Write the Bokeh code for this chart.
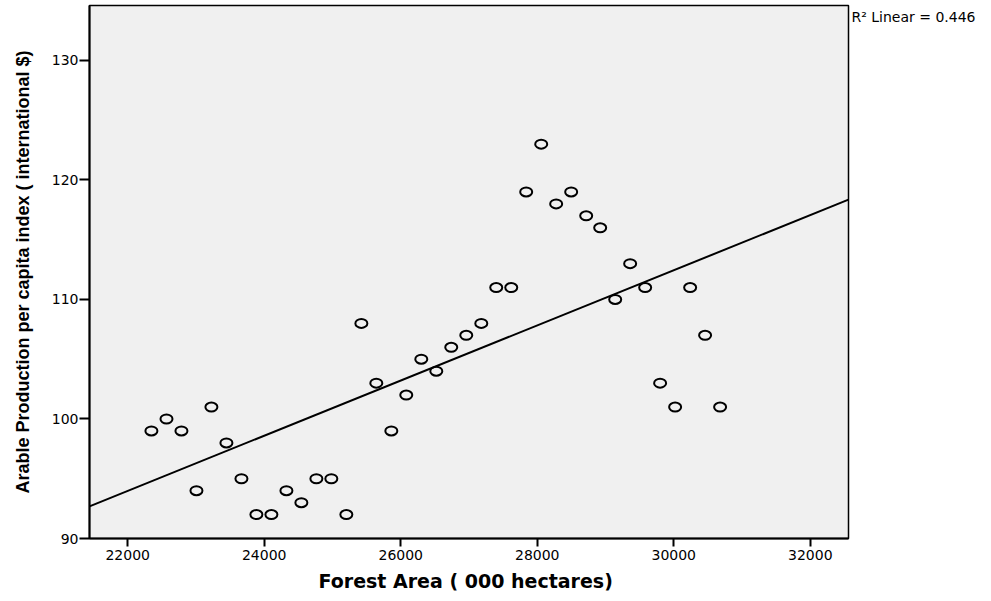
import numpy as np
from bokeh.plotting import figure
from bokeh.models import Range1d, FixedTicker, LinearAxis
from bokeh.embed import file_html
from bokeh.resources import INLINE

# Data
forest_area = [22347, 22568, 22787, 23007, 23226, 23446, 23666, 23885, 24105, 24325,
               24544, 24764, 24983, 25203, 25423, 25642, 25862, 26081, 26301, 26521,
               26740, 26960, 27180, 27399, 27619, 27838, 28058, 28277, 28497, 28717,
               28922, 29142, 29361, 29581, 29800, 30020, 30240, 30459, 30679]
arable_index = [99, 100, 99, 94, 101, 98, 95, 92, 92, 94,
                93, 95, 95, 92, 108, 103, 99, 102, 105, 104,
                106, 107, 108, 111, 111, 119, 123, 118, 119, 117,
                116, 110, 113, 111, 103, 101, 111, 107, 101]
x_ticks = [22000, 24000, 26000, 28000, 30000, 32000]
y_ticks = [90, 100, 110, 120, 130]
x_title = "Forest Area  ( 000 hectares)"
y_title = "Arable Production per capita index ( international $)"
r2_text = "R\u00b2  Linear = 0.446"

x_lo, x_hi = 21440, 32560
y_lo, y_hi = 90, 134.6
r2_y = 133.6  # vertical anchor of the fit note, in y-data units

p = figure(width=991, height=601, output_backend="svg", toolbar_location=None,
           x_range=Range1d(x_lo, x_hi), y_range=Range1d(y_lo, y_hi),
           min_border_left=89, min_border_right=143, min_border_top=5, min_border_bottom=63)

p.background_fill_color = "#F0F0F0"
p.border_fill_color = "white"
p.outline_line_color = "black"
p.outline_line_width = 1.5
p.xgrid.visible = False
p.ygrid.visible = False

# regression line computed from the data
slope, intercept = np.polyfit(np.array(forest_area, float), np.array(arable_index, float), 1)
p.line([x_lo, x_hi], [intercept + slope * x_lo, intercept + slope * x_hi],
       line_color="black", line_width=2)

p.ellipse(x=forest_area, y=arable_index, width=12, height=9,
          width_units="screen", height_units="screen",
          fill_color=None, line_color="black", line_width=2)

for ax, ticks, tick_out in ((p.xaxis[0], x_ticks, 8), (p.yaxis[0], y_ticks, 10)):
    ax.ticker = FixedTicker(ticks=ticks)
    ax.minor_tick_line_color = None
    ax.major_tick_in = 0
    ax.major_tick_out = tick_out
    ax.major_tick_line_width = 2
    ax.major_tick_line_color = "black"
    ax.axis_line_width = 2
    ax.axis_line_color = "black"
    ax.major_label_text_font = "DejaVu Sans"
    ax.major_label_text_font_size = "14px"
    ax.major_label_text_color = "black"
    ax.axis_label_text_color = "black"
    ax.axis_label_text_font_style = "bold"

p.xaxis[0].major_label_standoff = 3
p.yaxis[0].major_label_standoff = 1
p.xaxis[0].axis_label = x_title
p.xaxis[0].axis_label_text_font = "DejaVu Sans"
p.xaxis[0].axis_label_text_font_size = "19px"
p.xaxis[0].axis_label_standoff = 7
p.yaxis[0].axis_label = y_title
p.yaxis[0].axis_label_text_font = "Liberation Sans"
p.yaxis[0].axis_label_text_font_size = "18px"
p.yaxis[0].axis_label_standoff = 16

# fit note placed to the right of the frame via a bare right-hand axis
note_axis = LinearAxis(ticker=FixedTicker(ticks=[r2_y]),
                       major_label_overrides={r2_y: r2_text},
                       axis_line_color=None, major_tick_line_color=None,
                       minor_tick_line_color=None, major_tick_in=0, major_tick_out=0,
                       major_label_standoff=3, major_label_orientation="horizontal",
                       major_label_text_font="DejaVu Sans",
                       major_label_text_font_size="14px",
                       major_label_text_color="black")
p.add_layout(note_axis, "right")

open("out.html", "w").write(file_html(p, INLINE))
